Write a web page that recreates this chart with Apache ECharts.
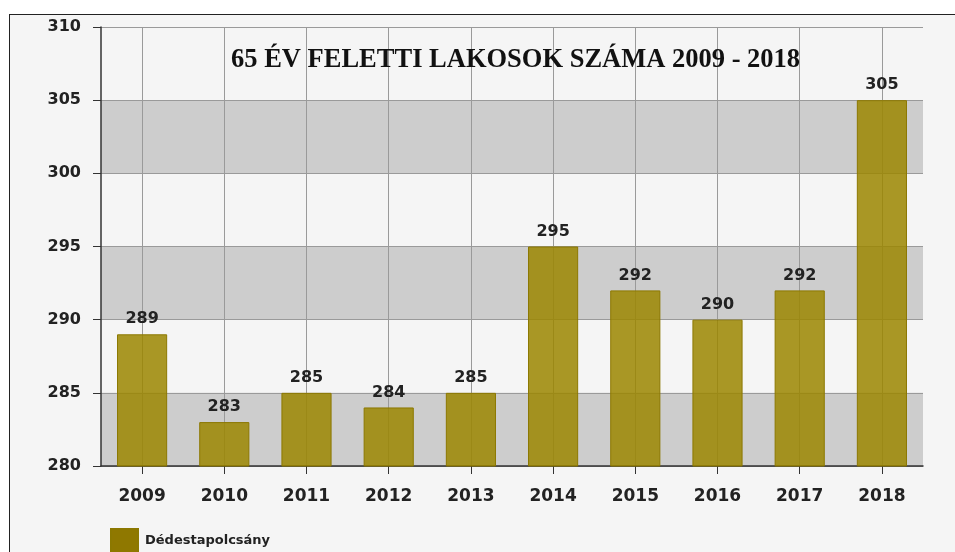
<!DOCTYPE html>
<html>
<head>
<meta charset="utf-8">
<script src="https://cdn.jsdelivr.net/npm/echarts@6/dist/echarts.min.js"></script>
<style>
  body { margin: 0; background: #ffffff; }
  #frame {
    position: absolute;
    left: 9px;
    top: 14px;
    width: 946px;
    height: 538px;
    border-top: 1px solid #222;
    border-left: 1px solid #222;
    background: #f5f5f5;
  }
  #chart { width: 946px; height: 538px; }
</style>
</head>
<body>
<div id="frame"><div id="chart"></div></div>
<script>
var years = ["2009", "2010", "2011", "2012", "2013", "2014", "2015", "2016", "2017", "2018"];
var lakosok = [289, 283, 285, 284, 285, 295, 292, 290, 292, 305];
var seriesName = "Dédestapolcsány";
var chartTitle = "65 ÉV FELETTI LAKOSOK SZÁMA 2009 - 2018";

var myChart = echarts.init(document.getElementById("chart"));
var option = {
  animation: false,
  title: {
    text: chartTitle,
    left: 216,
    top: 27,
    textStyle: {
      fontFamily: "Liberation Serif",
      fontWeight: "bold",
      fontSize: 26.5,
      color: "#111",
    },
  },
  legend: {
    left: 95,
    top: 508,
    itemWidth: 27,
    itemHeight: 24,
    itemGap: 7,
    icon: "rect",
    itemStyle: { color: "#8f7800", opacity: 1 },
    textStyle: {
      fontFamily: "DejaVu Sans",
      fontWeight: "bold",
      fontSize: 13,
      color: "#222",
      padding: [0, 0, 0, 2],
    },
    data: [seriesName],
  },
  grid: {
    left: 91,
    top: 12,
    right: 33,
    bottom: 87,
  },
  xAxis: {
    type: "category",
    data: years,
    axisLine: { show: true, lineStyle: { color: "#333", width: 1.5 } },
    axisTick: { show: true, alignWithLabel: true, length: 8, lineStyle: { color: "#333" } },
    axisLabel: {
      margin: 22,
      fontFamily: "DejaVu Sans",
      fontWeight: "bold",
      fontSize: 17,
      color: "#222",
    },
    splitLine: {
      show: true,
      alignWithLabel: true,
      lineStyle: { color: "#9a9a9a", width: 1 },
    },
  },
  yAxis: {
    type: "value",
    min: 280,
    max: 310,
    interval: 5,
    axisLine: { show: true, lineStyle: { color: "#333", width: 1.5 } },
    axisTick: { show: true, length: 8, lineStyle: { color: "#333" } },
    axisLabel: {
      margin: 20,
      fontFamily: "DejaVu Sans",
      fontWeight: "bold",
      fontSize: 16,
      color: "#222",
    },
    splitLine: { show: true, lineStyle: { color: "#9a9a9a", width: 1 } },
    splitArea: {
      show: true,
      areaStyle: { color: ["#cdcdcd", "rgba(0,0,0,0)"] },
    },
  },
  series: [
    {
      name: seriesName,
      type: "bar",
      data: lakosok,
      barWidth: "61%",
      itemStyle: {
        color: "rgba(155,134,0,0.85)",
        borderColor: "#8c7800",
        borderWidth: 1,
      },
      label: {
        show: true,
        position: "top",
        distance: 7,
        fontFamily: "DejaVu Sans",
        fontWeight: "bold",
        fontSize: 16,
        color: "#222",
      },
    },
  ],
};
myChart.setOption(option);
</script>
</body>
</html>
